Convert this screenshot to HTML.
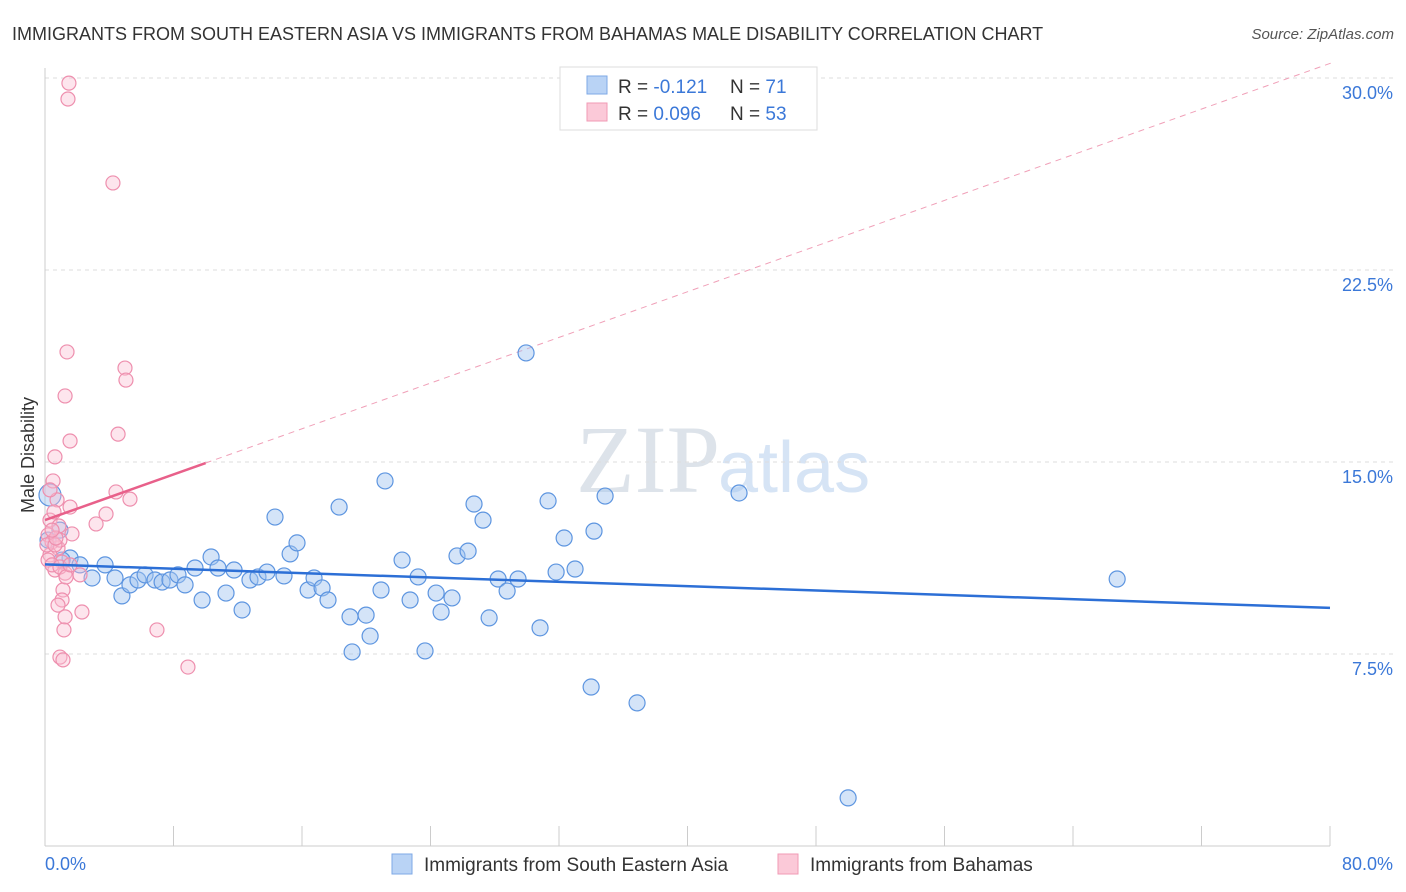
<!DOCTYPE html>
<html><head><meta charset="utf-8">
<style>
body{margin:0;background:#fff;font-family:"Liberation Sans",sans-serif;}
#wrap{position:relative;width:1406px;height:892px;overflow:hidden;}
</style></head>
<body>
<div id="wrap">
<svg id="chart" width="1406" height="892" style="position:absolute;left:0;top:0">
<text x="12" y="40" font-size="18" fill="#333">IMMIGRANTS FROM SOUTH EASTERN ASIA VS IMMIGRANTS FROM BAHAMAS MALE DISABILITY CORRELATION CHART</text>
<text x="1394" y="39" font-size="15" fill="#555" font-style="italic" text-anchor="end">Source: ZipAtlas.com</text>
<text x="720" y="492" font-size="96" fill="#dde3ea" text-anchor="end" font-family="Liberation Serif,serif">ZIP</text>
<text x="718" y="492" font-size="72" fill="#d6e4f5">atlas</text>
<text x="34" y="455" font-size="18" fill="#333" text-anchor="middle" transform="rotate(-90 34 455)">Male Disability</text>
<g id="grid"></g><g id="axes"></g><g id="lines"></g><g id="pts"></g>
<g>
<rect x="560" y="67" width="257" height="63" fill="#fff" stroke="#ddd"/>
<rect x="587" y="76" width="20" height="18" fill="#b9d3f5" stroke="#7ea8e6"/>
<rect x="587" y="103" width="20" height="18" fill="#fbc9d8" stroke="#f09ab5"/>
<text x="618" y="93" font-size="19" fill="#333">R = <tspan fill="#3b78d8">-0.121</tspan></text>
<text x="730" y="93" font-size="19" fill="#333">N = <tspan fill="#3b78d8">71</tspan></text>
<text x="618" y="120" font-size="19" fill="#333">R = <tspan fill="#3b78d8">0.096</tspan></text>
<text x="730" y="120" font-size="19" fill="#333">N = <tspan fill="#3b78d8">53</tspan></text>
</g>
<g>
<rect x="392" y="854" width="20" height="20" fill="#b9d3f5" stroke="#7ea8e6"/>
<text x="424" y="871" font-size="19" fill="#333">Immigrants from South Eastern Asia</text>
<rect x="778" y="854" width="20" height="20" fill="#fbc9d8" stroke="#f09ab5"/>
<text x="810" y="871" font-size="19" fill="#333">Immigrants from Bahamas</text>
</g>
</svg>
</div>
<script>
const xTickLabels=["0.0%","80.0%"];
const yTicks=[7.5,15,22.5,30];
const yTickLabels=["7.5%","15.0%","22.5%","30.0%"];
const blueX=[.31,.93,1.56,2.18,2.93,3.74,4.36,4.79,5.29,5.79,6.23,6.85,7.29,7.78,8.28,8.72,9.34,9.78,10.34,10.77,11.27,11.77,12.27,12.76,13.26,13.82,14.32,14.88,15.26,15.69,16.38,16.75,17.25,17.62,18.31,18.99,19.12,19.99,20.24,20.92,21.17,22.23,22.73,23.23,23.66,24.35,24.66,25.34,25.65,26.34,26.71,27.27,27.65,28.21,28.77,29.45,29.95,30.82,31.32,31.82,32.32,33.00,34.00,34.18,34.87,36.86,43.21,50.00,66.75,1.06,.19];
const blueY=[13.71,12.34,11.25,10.98,10.47,10.98,10.47,9.77,10.20,10.39,10.59,10.39,10.31,10.39,10.59,10.20,10.86,9.61,11.29,10.86,9.88,10.78,9.22,10.39,10.51,10.70,12.85,10.55,11.41,11.84,10.00,10.47,10.08,9.61,13.24,8.95,7.58,9.02,8.20,10.00,14.26,11.17,9.61,10.51,7.62,9.88,9.14,9.69,11.33,11.52,13.36,12.73,8.91,10.43,9.96,10.43,19.26,8.52,13.48,10.70,12.03,10.82,6.21,12.30,13.67,5.59,13.79,1.88,10.43,11.17,11.95];
const pinkX=[1.49,1.43,4.23,1.37,4.98,5.04,1.25,1.56,4.55,.62,.50,.75,4.42,5.29,3.80,3.18,1.68,1.56,.31,.19,.44,.81,.31,1.06,.62,1.25,2.18,1.12,1.06,.81,2.30,1.25,1.18,6.97,.93,1.12,8.90,.12,.93,.62,.19,.44,.93,1.31,.56,.31,.87,.68,.44,1.56];
const pinkY=[29.80,29.18,25.90,19.30,18.67,18.20,17.58,15.82,16.09,15.20,14.26,13.52,13.83,13.55,12.97,12.58,12.19,13.24,12.73,12.15,11.88,11.64,11.37,11.09,10.78,10.66,10.59,10.00,9.61,9.41,9.14,8.95,8.44,8.44,7.38,7.27,6.99,11.76,11.95,11.76,11.17,10.98,10.90,10.51,13.05,13.91,12.50,12.03,12.34,10.98];
const blueLine=[11.0,9.3];
const pinkLine=[12.73,14.96];
const pinkLineEndX=10;
const X=v=>45+v*(1285/80), Y=v=>846-v*25.6;
const NS="http://www.w3.org/2000/svg";
function mk(parent,tag,attrs){const e=document.createElementNS(NS,tag);for(const k in attrs)e.setAttribute(k,attrs[k]);document.getElementById(parent).appendChild(e);return e;}
yTicks.forEach((t,i)=>{
 const l=mk('grid','line',{x1:45,x2:1394,y1:Y(t),y2:Y(t),stroke:'#ddd','stroke-dasharray':'4,4'});
 
 
 const tx=mk('grid','text',{x:1393,y:Y(t)+21,'font-size':18,fill:'#3b78d8','text-anchor':'end'});
 tx.textContent=yTickLabels[i];
 
 
});
const ax=mk('axes','line',{x1:45,x2:1330,y1:846,y2:846,stroke:'#ccc'});


const ay=mk('axes','line',{x1:45,x2:45,y1:68,y2:846,stroke:'#ccc'});


for(let i=0;i<=10;i++){const t=mk('axes','line',{x1:X(i*8),x2:X(i*8),y1:826,y2:846,stroke:'#ccc'});
 
 }
[[0,45,'start'],[80,1393,'end']].forEach((d,i)=>{const t=mk('axes','text',{x:d[1],y:870,'font-size':18,fill:'#3b78d8','text-anchor':d[2]});t.textContent=xTickLabels[i];
 
 });
const ps=(pinkLine[1]-pinkLine[0])/pinkLineEndX;
const dx=(30.6-pinkLine[0])/ps;
const pd=mk('lines','line',{x1:X(pinkLineEndX),y1:Y(pinkLine[1]),x2:X(dx),y2:Y(pinkLine[0]+ps*dx),stroke:'#f0a0b8','stroke-dasharray':'6,5'});


blueX.forEach((x,i)=>{const c=mk('pts','circle',{cx:X(x),cy:Y(blueY[i]),r:i==0?11:8,fill:'rgba(160,196,240,0.45)',stroke:'#5d95e0','stroke-width':1.2});
 
 });
pinkX.forEach((x,i)=>{const c=mk('pts','circle',{cx:X(x),cy:Y(pinkY[i]),r:7,fill:'rgba(250,190,210,0.4)',stroke:'#ee8fae','stroke-width':1.2});
 
 });
const bl=mk('pts','line',{x1:X(0),y1:Y(blueLine[0]),x2:X(80),y2:Y(blueLine[1]),stroke:'#2c6fd6','stroke-width':2.5});


const pl=mk('pts','line',{x1:X(0),y1:Y(pinkLine[0]),x2:X(pinkLineEndX),y2:Y(pinkLine[1]),stroke:'#e8608a','stroke-width':2.5});


</script>
</body></html>
